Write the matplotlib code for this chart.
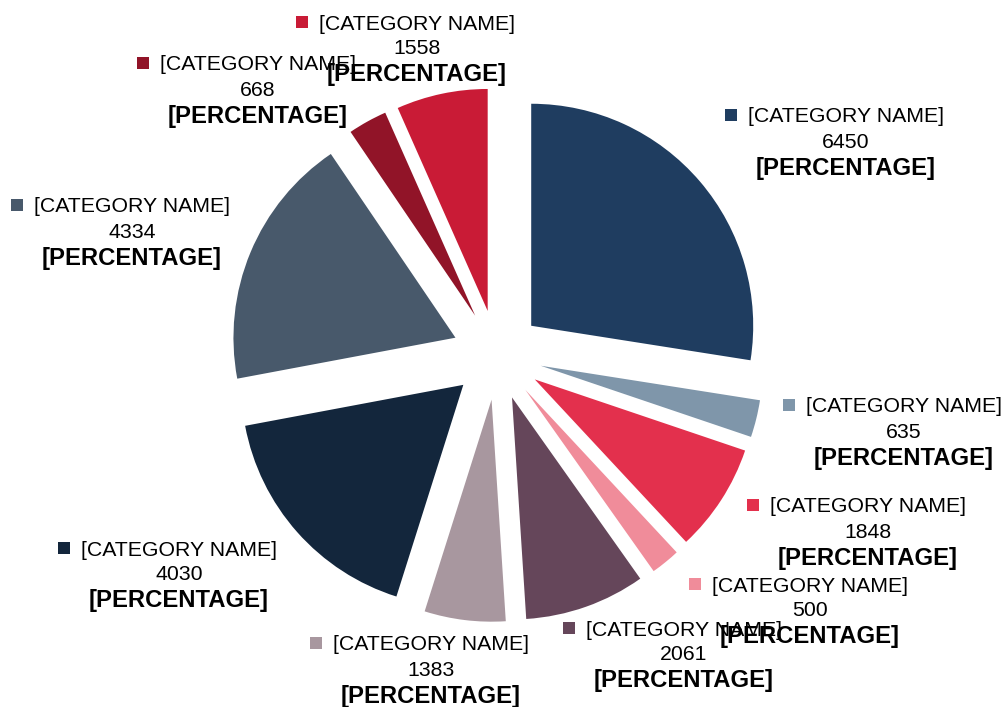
import matplotlib.pyplot as plt

values = [6450, 635, 1848, 500, 2061, 1383, 4030, 4334, 668, 1558]
colors = ["#1f3d60", "#7f96aa", "#e3304d", "#f08c9a", "#65465a",
          "#a8979f", "#13263c", "#48596b", "#911428", "#c91b36"]
name_text = "[CATEGORY NAME]"
pct_text = "[PERCENTAGE]"

# label block centres in pixel coords (x, y of first line)
label_pos = [(846, 117), (904, 407), (868, 507), (810, 586), (684, 630),
             (431, 645), (179, 550), (132, 207), (258, 65), (417, 24)]

W, H = 1007, 707
fig = plt.figure(figsize=(W / 100, H / 100), dpi=100)
ax = fig.add_axes([0, 0, 1, 1])

cx, cy, r = 497, 355, 222
# y axis is inverted, so counterclock=True draws clockwise on screen
ax.pie(values, colors=colors, startangle=-90, counterclock=True,
       radius=r, center=(cx, cy), explode=[45] * len(values),
       wedgeprops=dict(linewidth=0), frame=True)
ax.set_xlim(0, W)
ax.set_ylim(H, 0)
ax.set_aspect("auto")
ax.axis("off")

plt.rcParams["font.family"] = ["Liberation Sans", "DejaVu Sans"]
for (x, y), v, c in zip(label_pos, values, colors):
    ax.text(x, y, name_text, ha="center", va="center", fontsize=15.3, color="#000000")
    ax.scatter([x - 115], [y - 2], marker="s", s=75, color=c, linewidths=0)
    ax.text(x, y + 25, str(v), ha="center", va="center", fontsize=15.3, color="#000000")
    ax.text(x, y + 51, pct_text, ha="center", va="center", fontsize=17.2,
            fontweight="bold", color="#000000")

fig.savefig("out.png", dpi=100)
